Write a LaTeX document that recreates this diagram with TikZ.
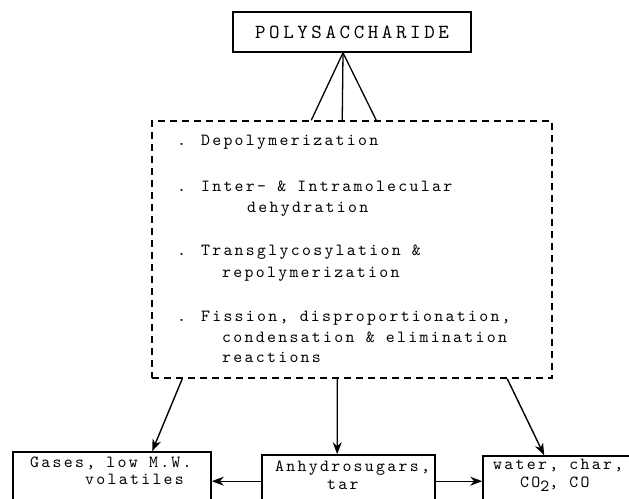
\documentclass[tikz,border=0pt]{standalone}
\usepackage{fontspec}
\usetikzlibrary{arrows.meta,calc}
\newfontfamily\lmttbig{lmmono10-regular.otf}[LetterSpace=18]
\newfontfamily\lmttmid{lmmono10-regular.otf}[LetterSpace=13.5]
\newcommand\ttbigfont{\lmttbig\fontsize{20}{23}\selectfont}
\newcommand\ttmidfont{\lmttmid\fontsize{17}{20}\selectfont}
\tikzset{
  box/.style={draw, line width=1.6pt, inner sep=0pt},
  dbox/.style={draw, line width=1.5pt, dash pattern=on 7pt off 5pt, inner sep=0pt},
  txt/.style={inner sep=0pt, anchor=mid west, font=\ttmidfont},
  conn/.style={line width=1.3pt},
  arr/.style={line width=1.4pt, -{Stealth[length=12pt,width=9pt]}}
}
\begin{document}
\begin{tikzpicture}[x=1pt,y=-1pt]
\useasboundingbox (0,0) rectangle (629,498);
\clip (0,0) rectangle (629,498);
% top box
\node[box, minimum width=238pt, minimum height=40pt, font=\ttbigfont] (poly) at (352,32) {POLYSACCHARIDE};
% dashed mechanism box
\node[dbox, minimum width=400pt, minimum height=257pt] (mech) at (352,249.5) {};
\coordinate (apex) at ($(poly.south)+(-9,0)$);
\coordinate (t1) at ($(mech.north west)+(160,0)$);
\coordinate (t2) at ($(mech.north west)+(191,0)$);
\coordinate (t3) at ($(mech.north west)+(225,0)$);
\draw[conn] (apex) -- (t1);
\draw[conn] (apex) -- (t2);
\draw[conn] (apex) -- (t3);
% items
\node[txt] (i1) at (177,143) {. Depolymerization};
\node[txt] (i2a) at (177,189) {. Inter- \& Intramolecular};
\node[txt] (i2b) at (247,210) {dehydration};
\node[txt] (i3a) at (177,253) {. Transglycosylation \&};
\node[txt] (i3b) at (222,275) {repolymerization};
\node[txt] (i4a) at (177,319) {. Fission, disproportionation,};
\node[txt] (i4b) at (222,340) {condensation \& elimination};
\node[txt] (i4c) at (222,360) {reactions};
% bottom boxes
\node[box, minimum width=198pt, minimum height=80pt] (gas) at (112,492) {};
\node[box, minimum width=173pt, minimum height=80pt] (mid) at (348.5,495) {};
\node[box, minimum width=177pt, minimum height=80pt] (wat) at (571.5,496) {};
\node[txt] (g1) at (30,465) {Gases, low M.W.};
\node[txt] (g2) at (85,482) {volatiles};
\node[txt] (a1) at (275,469) {Anhydrosugars,};
\node[txt] (a2) at (327,487) {tar};
\node[txt] (w1) at (493,467) {water, char,};
\node[txt] (w2) at (520,485) {CO\raisebox{-4pt}{2}, CO};
% arrows
\draw[arr] ($(mech.south west)+(31,0)$) -- ($(gas.north west)+(140,0)$);
\draw[arr] ($(mech.south west)+(186,0)$) -- ($(mid.north west)+(76,0)$);
\draw[arr] ($(mech.south west)+(356,0)$) -- ($(wat.north west)+(62,0)$);
\draw[arr] ($(mid.north west)+(0,27)$) -- ($(gas.north east)+(0,30)$);
\draw[arr] ($(mid.north east)+(0,27)$) -- ($(wat.north west)+(0,26)$);
\end{tikzpicture}
\end{document}
